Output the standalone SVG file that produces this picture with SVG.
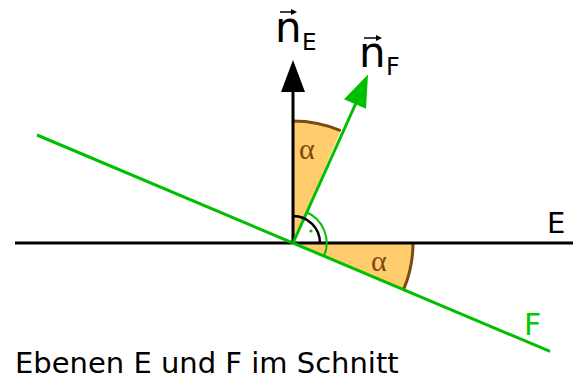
<svg xmlns="http://www.w3.org/2000/svg" width="573" height="380" viewBox="0 0 573 380">
<style>
.wedge{fill:#ffcc6e;stroke:none}
.arcb{fill:none;stroke:#7b4a12;stroke-width:3}
.blk{stroke:#000;stroke-width:3;fill:none}
.grn{stroke:#00bf00;stroke-width:3;fill:none}
.lbl{font-family:"DejaVu Sans",sans-serif}
.alpha{font-family:"Liberation Serif",serif;font-size:30px;fill:#7b4a12}
</style>
<rect width="573" height="380" fill="#fff"/>
<g id="angle-top">
<path class="wedge" d="M293,243 L293,121 A122,122 0 0 1 340.7,130.7 Z"/>
<path class="arcb" d="M293,121 A122,122 0 0 1 340.7,130.7"/>
<text class="alpha" x="299" y="159">α</text>
</g>
<g id="angle-bottom">
<path class="wedge" d="M293,243 L413,243 A120,120 0 0 1 403.6,289.6 Z"/>
<path class="arcb" d="M413,243 A120,120 0 0 1 403.6,289.6"/>
<text class="alpha" x="371" y="271">α</text>
</g>
<g id="connectors">
<line id="plane-E" class="blk" x1="15" y1="243" x2="573" y2="243"/>
<line id="plane-F" class="grn" x1="37" y1="135" x2="550" y2="351.4"/>
<line id="normal-E" class="blk" x1="293" y1="243" x2="293" y2="90"/>
<polygon points="293,60 281,92 305,92" fill="#000"/>
<line id="normal-F" class="grn" x1="293" y1="243" x2="356" y2="103"/>
<polygon points="368,74.5 366,108.8 344,99.2" fill="#00bf00"/>
</g>
<g id="right-angles">
<path d="M293,216 A27,27 0 0 1 320,243" fill="none" stroke="#000" stroke-width="2.5"/>
<path d="M306,212 A33.5,33.5 0 0 1 324,256" fill="none" stroke="#00bf00" stroke-width="2"/>
<circle cx="311" cy="231" r="1.6" fill="#00bf00"/>
</g>
<g id="label-nE">
<text class="lbl" x="275" y="42" font-size="42" fill="#000">n</text>
<text class="lbl" x="302" y="50" font-size="23" fill="#000">E</text>
<line x1="280" y1="12" x2="293" y2="12" stroke="#000" stroke-width="1.5"/>
<polygon points="297,12 291,9 291,15" fill="#000"/>
</g>
<g id="label-nF">
<text class="lbl" x="359" y="67" font-size="42" fill="#000">n</text>
<text class="lbl" x="386" y="75" font-size="24" fill="#000">F</text>
<line x1="364" y1="38" x2="378" y2="38" stroke="#000" stroke-width="1.5"/>
<polygon points="382,38 376,35 376,41" fill="#000"/>
</g>
<g id="label-E">
<text class="lbl" x="547" y="233" font-size="29" fill="#000">E</text>
</g>
<g id="label-F">
<text class="lbl" x="524" y="335" font-size="30" fill="#00cc00">F</text>
</g>
<g id="caption">
<text class="lbl" x="15" y="373" font-size="29" fill="#000">Ebenen E und F im Schnitt</text>
</g>
</svg>
